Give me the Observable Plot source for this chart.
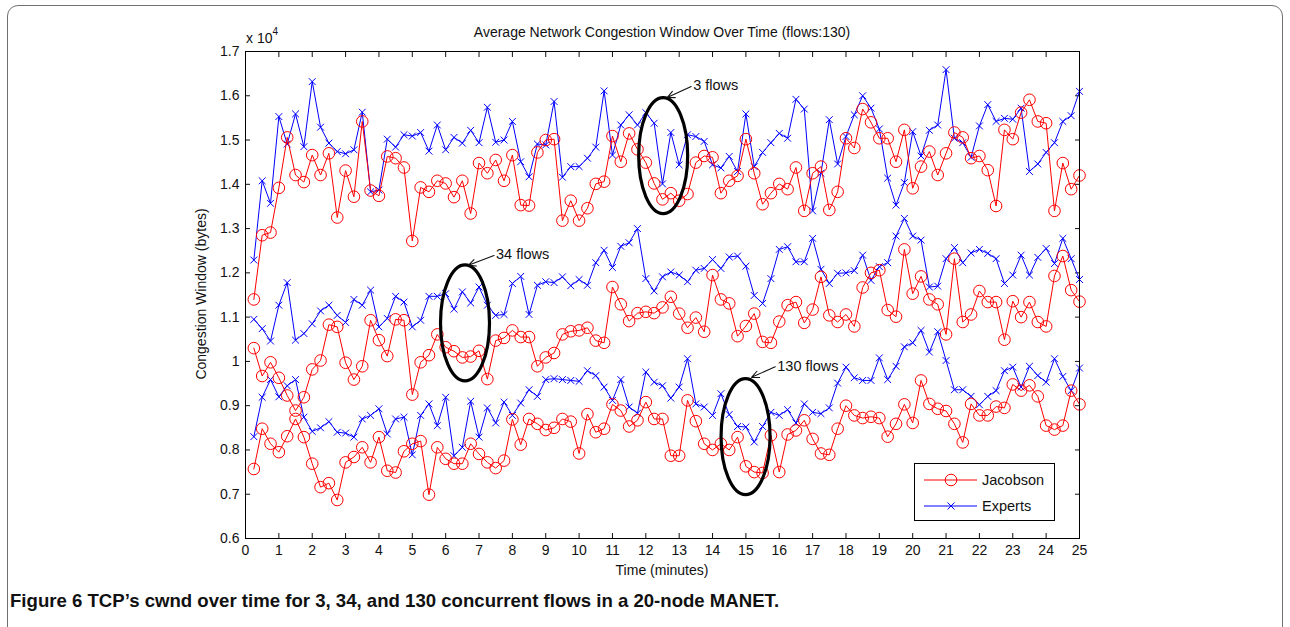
<!DOCTYPE html>
<html>
<head>
<meta charset="utf-8">
<script src="https://cdn.jsdelivr.net/npm/d3@7"></script>
<script src="https://cdn.jsdelivr.net/npm/@observablehq/plot@0.6"></script>
<style>
  body { margin: 0; background: #fff; font-family: "Liberation Sans", Arial, Helvetica, sans-serif; color: #111; }
  #wrap { position: relative; width: 1290px; height: 627px; overflow: hidden; background: #fff; }
  #border { position: absolute; left: 7px; top: 5px; width: 1276px; height: 700px; border: 1.5px solid #707070; border-radius: 11px; box-sizing: border-box; }
  #chart { position: absolute; left: 0; top: 0; }
  .lbl { position: absolute; font-size: 14px; color: #111; white-space: nowrap; }
  #title { left: 245px; width: 834px; top: 24px; text-align: center; font-size: 14px; }
  #exp { left: 246px; top: 28px; font-size: 14px; }
  #exp sup { font-size: 10px; position: relative; top: -2px; }
  #ylab { left: 201px; top: 294px; transform: translate(-50%, -50%) rotate(-90deg); }
  #xlab { left: 662px; top: 562px; transform: translateX(-50%); }
  #legend { position: absolute; left: 914px; top: 463px; width: 141px; height: 58px; border: 1px solid #000; background: #fff; box-sizing: border-box; }
  #caption { position: absolute; left: 10px; top: 590px; font-family: "Liberation Sans Narrow", "Liberation Sans", Arial, sans-serif; font-weight: bold; font-size: 18.6px; color: #111; white-space: nowrap; }
</style>
</head>
<body>
<div id="wrap">
  <div id="border"></div>
  <div id="chart"></div>
  <div class="lbl" id="title">Average Network Congestion Window Over Time (flows:130)</div>
  <div class="lbl" id="exp">x 10<sup>4</sup></div>
  <div class="lbl" id="ylab">Congestion Window (bytes)</div>
  <div class="lbl" id="xlab">Time (minutes)</div>
  <div id="legend"></div>
  <div id="caption">Figure 6 <span>TCP’s cwnd over time for 3, 34, and 130 concurrent flows in a 20-node MANET.</span></div>
</div>
<script>
// ---- Data (values in units of 10^4 bytes) ----
const times = [0.25,0.5,0.75,1,1.25,1.5,1.75,2,2.25,2.5,2.75,3,3.25,3.5,3.75,4,4.25,4.5,4.75,5,
  5.25,5.5,5.75,6,6.25,6.5,6.75,7,7.25,7.5,7.75,8,8.25,8.5,8.75,9,9.25,9.5,9.75,10,
  10.25,10.5,10.75,11,11.25,11.5,11.75,12,12.25,12.5,12.75,13,13.25,13.5,13.75,14,14.25,14.5,14.75,15,
  15.25,15.5,15.75,16,16.25,16.5,16.75,17,17.25,17.5,17.75,18,18.25,18.5,18.75,19,19.25,19.5,19.75,20,
  20.25,20.5,20.75,21,21.25,21.5,21.75,22,22.25,22.5,22.75,23,23.25,23.5,23.75,24,24.25,24.5,24.75,25];

const experts3 = [1.229,1.408,1.357,1.553,1.491,1.559,1.485,1.632,1.529,1.493,1.474,1.469,1.478,1.563,1.383,1.387,
  1.502,1.484,1.512,1.509,1.517,1.475,1.534,1.478,1.506,1.493,1.522,1.494,1.574,1.495,1.500,1.542,1.451,
  1.417,1.491,1.489,1.587,1.416,1.440,1.440,1.459,1.484,1.611,1.466,1.534,1.557,1.534,1.562,1.538,
  1.401,1.517,1.444,1.512,1.508,1.497,1.444,1.437,1.463,1.429,1.559,1.440,1.472,1.494,1.515,1.504,1.592,
  1.570,1.340,1.425,1.546,1.446,1.508,1.557,1.600,1.572,1.525,1.414,1.353,1.404,1.519,1.464,1.522,1.534,
  1.659,1.504,1.494,1.461,1.532,1.580,1.542,1.549,1.547,1.572,1.429,1.446,1.472,1.494,1.542,1.555,1.610];

const jacobson3 = [1.140,1.285,1.291,1.392,1.506,1.421,1.405,1.466,1.421,1.470,1.325,1.431,1.372,1.542,1.386,1.374,
  1.463,1.459,1.438,1.272,1.393,1.383,1.408,1.402,1.371,1.408,1.334,1.448,1.425,1.455,1.408,1.466,1.353,
  1.352,1.472,1.500,1.502,1.318,1.363,1.318,1.346,1.401,1.406,1.509,1.451,1.515,1.479,1.449,1.402,
  1.366,1.380,1.363,1.378,1.449,1.464,1.461,1.380,1.408,1.419,1.502,1.425,1.355,1.380,1.401,1.389,1.438,
  1.340,1.425,1.440,1.342,1.383,1.504,1.482,1.570,1.540,1.504,1.504,1.451,1.523,1.391,1.440,1.474,1.421,
  1.470,1.517,1.506,1.459,1.464,1.432,1.351,1.523,1.502,1.562,1.591,1.542,1.538,1.340,1.448,1.389,1.420];

const experts34 = [1.095,1.074,1.046,1.127,1.178,1.048,1.063,1.085,1.114,1.127,1.104,1.088,1.140,1.127,1.161,1.078,
  1.097,1.147,1.134,1.078,1.093,1.147,1.147,1.153,1.118,1.157,1.132,1.168,1.127,1.104,1.106,1.176,1.192,
  1.106,1.172,1.180,1.178,1.191,1.171,1.185,1.172,1.223,1.251,1.212,1.260,1.268,1.300,1.187,1.159,
  1.191,1.202,1.195,1.180,1.206,1.210,1.230,1.210,1.236,1.238,1.215,1.149,1.131,1.187,1.253,1.259,1.225,
  1.225,1.278,1.208,1.176,1.199,1.200,1.205,1.240,1.183,1.214,1.223,1.283,1.323,1.283,1.274,1.168,1.170,
  1.232,1.257,1.223,1.245,1.253,1.244,1.232,1.176,1.195,1.240,1.195,1.235,1.255,1.221,1.278,1.232,1.185];

const jacobson34 = [1.030,0.967,0.998,0.963,0.923,0.889,0.919,0.982,1.002,1.083,1.078,0.997,0.959,0.989,1.093,1.048,
  1.012,1.095,1.093,0.925,0.998,1.014,1.061,1.032,1.023,1.009,1.011,1.024,0.960,1.047,1.053,1.070,1.055,
  1.055,0.989,1.009,1.019,1.061,1.068,1.070,1.076,1.047,1.042,1.168,1.129,1.091,1.109,1.112,1.109,
  1.122,1.146,1.108,1.076,1.099,1.067,1.195,1.140,1.131,1.057,1.080,1.108,1.044,1.042,1.090,1.127,1.134,
  1.087,1.117,1.191,1.104,1.089,1.106,1.079,1.167,1.200,1.206,1.116,1.101,1.253,1.153,1.192,1.140,1.129,
  1.061,1.232,1.089,1.106,1.159,1.134,1.134,1.049,1.136,1.100,1.134,1.089,1.079,1.193,1.238,1.161,1.135];

const experts130 = [0.830,0.919,0.959,0.920,0.945,0.959,0.874,0.842,0.850,0.864,0.840,0.838,0.829,0.870,0.878,0.893,
  0.836,0.870,0.874,0.789,0.878,0.904,0.855,0.919,0.787,0.806,0.910,0.829,0.895,0.861,0.908,0.878,0.906,
  0.936,0.921,0.959,0.961,0.959,0.957,0.955,0.979,0.968,0.942,0.912,0.959,0.897,0.883,0.976,0.953,
  0.945,0.917,0.942,1.006,0.904,0.897,0.878,0.927,0.880,0.853,0.852,0.818,0.853,0.885,0.878,0.891,0.861,
  0.904,0.885,0.882,0.895,0.951,0.987,0.963,0.957,0.957,1.008,0.959,0.989,1.033,1.042,1.070,1.021,1.067,
  1.002,0.936,0.936,0.921,0.902,0.921,0.934,0.979,0.987,0.942,0.989,0.968,0.953,1.006,0.966,0.934,0.985];

const jacobson130 = [0.757,0.848,0.814,0.795,0.831,0.870,0.829,0.769,0.716,0.725,0.687,0.772,0.784,0.806,0.772,0.829,
  0.753,0.749,0.797,0.814,0.820,0.699,0.806,0.780,0.769,0.769,0.814,0.791,0.772,0.759,0.776,0.869,0.812,
  0.870,0.859,0.845,0.850,0.870,0.864,0.792,0.881,0.840,0.848,0.903,0.889,0.853,0.867,0.908,0.870,
  0.870,0.787,0.787,0.912,0.865,0.814,0.800,0.814,0.800,0.829,0.763,0.750,0.748,0.833,0.750,0.835,0.844,
  0.867,0.825,0.792,0.789,0.848,0.900,0.878,0.872,0.875,0.872,0.830,0.859,0.903,0.861,0.957,0.904,0.893,
  0.888,0.859,0.817,0.904,0.878,0.878,0.898,0.895,0.948,0.934,0.946,0.921,0.855,0.846,0.855,0.934,0.903];

const xTicks = [0,1,2,3,4,5,6,7,8,9,10,11,12,13,14,15,16,17,18,19,20,21,22,23,24,25];
const yTicks = [0.6,0.7,0.8,0.9,1.0,1.1,1.2,1.3,1.4,1.5,1.6,1.7];
const yTickLabels = ["0.6","0.7","0.8","0.9","1","1.1","1.2","1.3","1.4","1.5","1.6","1.7"];

// annotations (data coordinates)
const annLabels = ["3 flows", "34 flows", "130 flows"];
const annCenterT = [12.52, 6.58, 14.99];
const annCenterV = [1.465, 1.087, 0.830];
const annTextT = [13.42, 7.51, 15.94];
const annTextV = [1.623, 1.242, 0.989];
const annArrowFromT = [13.36, 7.45, 15.88];
const annArrowFromV = [1.621, 1.239, 0.988];
const annArrowToT = [12.64, 6.68, 15.17];
const annArrowToV = [1.596, 1.217, 0.964];

// ---- build tables ----
const toRows = (vals) => vals.map((v, i) => ({t: times[i], v}));
const jRows = [jacobson3, jacobson34, jacobson130].map(toRows);
const eRows = [experts3, experts34, experts130].map(toRows);
const ann = annLabels.map((label, i) => ({
  label, ct: annCenterT[i], cv: annCenterV[i], tt: annTextT[i], tv: annTextV[i],
  x1: annArrowFromT[i], y1: annArrowFromV[i], x2: annArrowToT[i], y2: annArrowToV[i]
}));

const ellipseSymbol = {
  draw(ctx) {
    const rx = 24.5, ry = 58, k = 0.5523;
    ctx.moveTo(rx, 0);
    ctx.bezierCurveTo(rx, ry * k, rx * k, ry, 0, ry);
    ctx.bezierCurveTo(-rx * k, ry, -rx, ry * k, -rx, 0);
    ctx.bezierCurveTo(-rx, -ry * k, -rx * k, -ry, 0, -ry);
    ctx.bezierCurveTo(rx * k, -ry, rx, -ry * k, rx, 0);
    ctx.closePath();
  }
};

const RED = "#ff0000", BLUE = "#0000ff";
const marks = [];
for (const rows of eRows) {
  marks.push(Plot.line(rows, {x: "t", y: "v", stroke: BLUE, strokeWidth: 1}));
  marks.push(Plot.dot(rows, {x: "t", y: "v", symbol: "times", r: 3.2, stroke: BLUE, strokeWidth: 1}));
}
for (const rows of jRows) {
  marks.push(Plot.line(rows, {x: "t", y: "v", stroke: RED, strokeWidth: 1}));
  marks.push(Plot.dot(rows, {x: "t", y: "v", symbol: "circle", r: 5.8, stroke: RED, strokeWidth: 1, fill: "none"}));
}
marks.push(Plot.dot(ann, {x: "ct", y: "cv", symbol: ellipseSymbol, stroke: "black", strokeWidth: 3.2, fill: "none"}));
marks.push(Plot.arrow(ann, {x1: "x1", y1: "y1", x2: "x2", y2: "y2", stroke: "#111", strokeWidth: 1.1, headLength: 11, headAngle: 50}));
marks.push(Plot.text(ann, {x: "tt", y: "tv", text: "label", textAnchor: "start", fontSize: 14.5, fill: "#111"}));

const fmtY = (d) => yTickLabels[yTicks.findIndex(t => Math.abs(t - d) < 1e-9)];

const chart = Plot.plot({
  width: 1290,
  height: 580,
  marginLeft: 245,
  marginRight: 211,
  marginTop: 51,
  marginBottom: 42,
  style: {fontFamily: '"Liberation Sans", Arial, Helvetica, sans-serif', fontSize: "14px", color: "#111", background: "transparent"},
  x: {domain: [0, 25]},
  y: {domain: [0.6, 1.7]},
  marks: [
    Plot.axisX(xTicks, {anchor: "bottom", tickSize: -5, tickPadding: 12, tickFormat: d => String(d), label: null, fontSize: 14}),
    Plot.axisX(xTicks, {anchor: "top", tickSize: -5, tickFormat: () => "", label: null}),
    Plot.axisY(yTicks, {anchor: "left", tickSize: -5, tickPadding: 11, tickFormat: fmtY, label: null, fontSize: 14}),
    Plot.axisY(yTicks, {anchor: "right", tickSize: -5, tickFormat: () => "", label: null}),
    ...marks,
    Plot.frame({stroke: "black", strokeWidth: 1})
  ]
});
document.getElementById("chart").appendChild(chart);

// legend (overlay)
const lg = d3.select("#legend").append("svg").attr("width", 139).attr("height", 56);
const entries = [{name: "Jacobson", color: RED, sym: "circle"}, {name: "Experts", color: BLUE, sym: "times"}];
entries.forEach((e, i) => {
  const y = 16 + i * 26;
  lg.append("line").attr("x1", 9).attr("x2", 62).attr("y1", y).attr("y2", y).attr("stroke", e.color).attr("stroke-width", 1);
  if (e.sym === "circle") {
    lg.append("circle").attr("cx", 36).attr("cy", y).attr("r", 5.8).attr("fill", "none").attr("stroke", e.color);
  } else {
    lg.append("path").attr("d", `M32.5,${y-3.5}L39.5,${y+3.5}M32.5,${y+3.5}L39.5,${y-3.5}`).attr("stroke", e.color);
  }
  lg.append("text").attr("x", 67).attr("y", y + 5).attr("font-size", 14.5).attr("fill", "#111")
    .attr("font-family", '"Liberation Sans", Arial, sans-serif').text(e.name);
});
</script>
</body>
</html>
